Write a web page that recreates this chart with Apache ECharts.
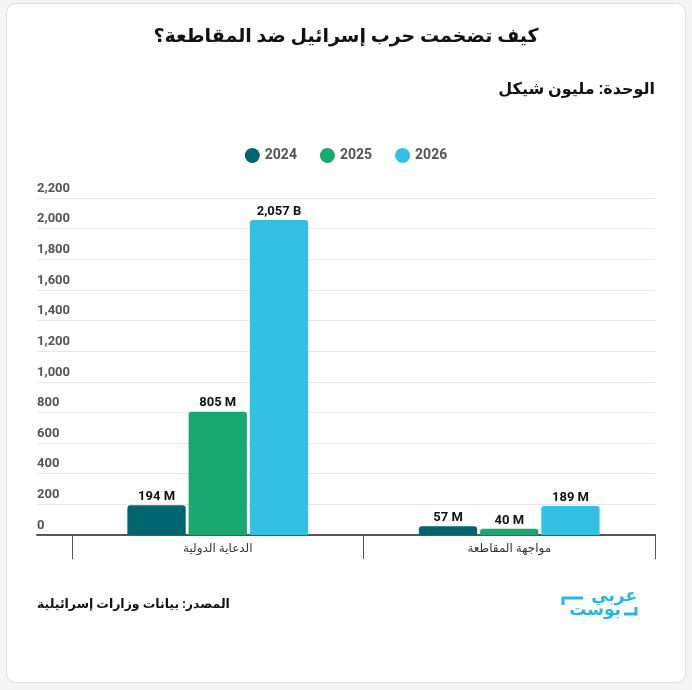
<!DOCTYPE html>
<html><head><meta charset="utf-8">
<script src="https://cdn.jsdelivr.net/npm/echarts@6/dist/echarts.min.js"></script>
<style>html,body{margin:0;padding:0;background:#f5f5f5}#c{width:692px;height:690px}</style>
</head><body><div id="c"></div>
<script>
const categories = ['الدعاية الدولية', 'مواجهة المقاطعة'];
const years = ['2024', '2025', '2026'];
const values2024 = [194, 57];
const values2025 = [805, 40];
const values2026 = [2057, 189];
const labels2024 = ['194 M', '57 M'];
const labels2025 = ['805 M', '40 M'];
const labels2026 = ['2,057 B', '189 M'];
const yMin = 0, yMax = 2200, yStep = 200;
const titleText = 'كيف تضخمت حرب إسرائيل ضد المقاطعة؟';
const unitText = 'الوحدة: مليون شيكل';
const sourceText = 'المصدر: بيانات وزارات إسرائيلية';
const logoTop = 'عربي';
const logoBottom = 'بوست';

const colors = ['#006570', '#1aa872', '#33c1e3'];
const logoColor = '#22b7e4';
const FONT = 'Roboto, "DejaVu Sans", sans-serif';
const chart = echarts.init(document.getElementById('c'));
const seriesVals = [values2024, values2025, values2026];
const seriesLabels = [labels2024, labels2025, labels2026];

chart.setOption({
  backgroundColor: '#f5f5f5',
  textStyle: { fontFamily: FONT },
  title: [
    { text: titleText, left: 'center', top: 23, textStyle: { fontSize: 19, fontWeight: 'bold', color: '#111', fontFamily: FONT } },
    { text: unitText, right: 32, top: 77, textStyle: { fontSize: 16, fontWeight: 'bold', color: '#111', fontFamily: FONT } }
  ],
  legend: {
    data: years, top: 143, left: 'center', icon: 'circle', itemWidth: 15, itemHeight: 15, itemGap: 23,
    textStyle: { fontSize: 14, fontWeight: 'bold', color: '#555', fontFamily: FONT }
  },
  graphic: [
    { type: 'rect', z: -10, shape: { x: 6.5, y: 3.5, width: 679, height: 679, r: 9 }, style: { fill: '#fff', stroke: '#dedede', lineWidth: 1 } },
    { type: 'text', style: { text: sourceText, x: 37, y: 598, align: 'left', verticalAlign: 'top', font: 'bold 12.5px ' + FONT, fill: '#111' } },
    { type: 'text', style: { text: logoTop, x: 637, y: 588, align: 'right', verticalAlign: 'top', font: 'bold 17px ' + FONT, fill: logoColor } },
    { type: 'text', style: { text: logoBottom, x: 621, y: 602, align: 'right', verticalAlign: 'top', font: 'bold 17px ' + FONT, fill: logoColor } },
    { type: 'polyline', shape: { points: [[563, 605], [563, 598], [583, 598]] }, style: { stroke: logoColor, lineWidth: 3, fill: null } },
    { type: 'polyline', shape: { points: [[624, 614], [636, 614], [636, 607]] }, style: { stroke: logoColor, lineWidth: 3, fill: null } }
  ],
  grid: [
    { left: 37, right: 37, top: 198, bottom: 155 },
    { left: 72, right: 37, top: 198, bottom: 155 }
  ],
  xAxis: [
    { gridIndex: 0, type: 'value', min: 0, max: 1, axisLine: { show: true, lineStyle: { color: '#555', width: 2 } },
      axisTick: { show: false }, axisLabel: { show: false }, splitLine: { show: false } },
    { gridIndex: 1, type: 'category', data: categories, boundaryGap: true,
      axisLine: { show: true, lineStyle: { color: '#555', width: 2 } },
      axisTick: { show: true, length: 24, lineStyle: { color: '#555', width: 1 } },
      axisLabel: { margin: 8, fontSize: 12, color: '#333', fontFamily: FONT } }
  ],
  yAxis: [
    { gridIndex: 0, type: 'value', min: yMin, max: yMax, interval: yStep,
      axisLine: { show: false }, axisTick: { show: false },
      axisLabel: { inside: true, margin: 0, verticalAlign: 'bottom', padding: [0, 0, 3, 0], fontSize: 13, fontWeight: 'bold', color: '#555', fontFamily: FONT },
      splitLine: { lineStyle: { color: '#e8e8e8', width: 1 } } },
    { gridIndex: 1, type: 'value', min: yMin, max: yMax, interval: yStep, show: false, splitLine: { show: false } }
  ],
  series: years.map((y, i) => ({
    name: y, type: 'bar', xAxisIndex: 1, yAxisIndex: 1,
    data: seriesVals[i], barGap: '5%', barCategoryGap: '38%',
    itemStyle: { color: colors[i], borderRadius: [3, 3, 0, 0] },
    label: { show: true, position: 'top', distance: 2, fontSize: 13, fontWeight: 'bold', color: '#111', fontFamily: FONT,
      formatter: p => seriesLabels[i][p.dataIndex] }
  }))
});
</script></body></html>
